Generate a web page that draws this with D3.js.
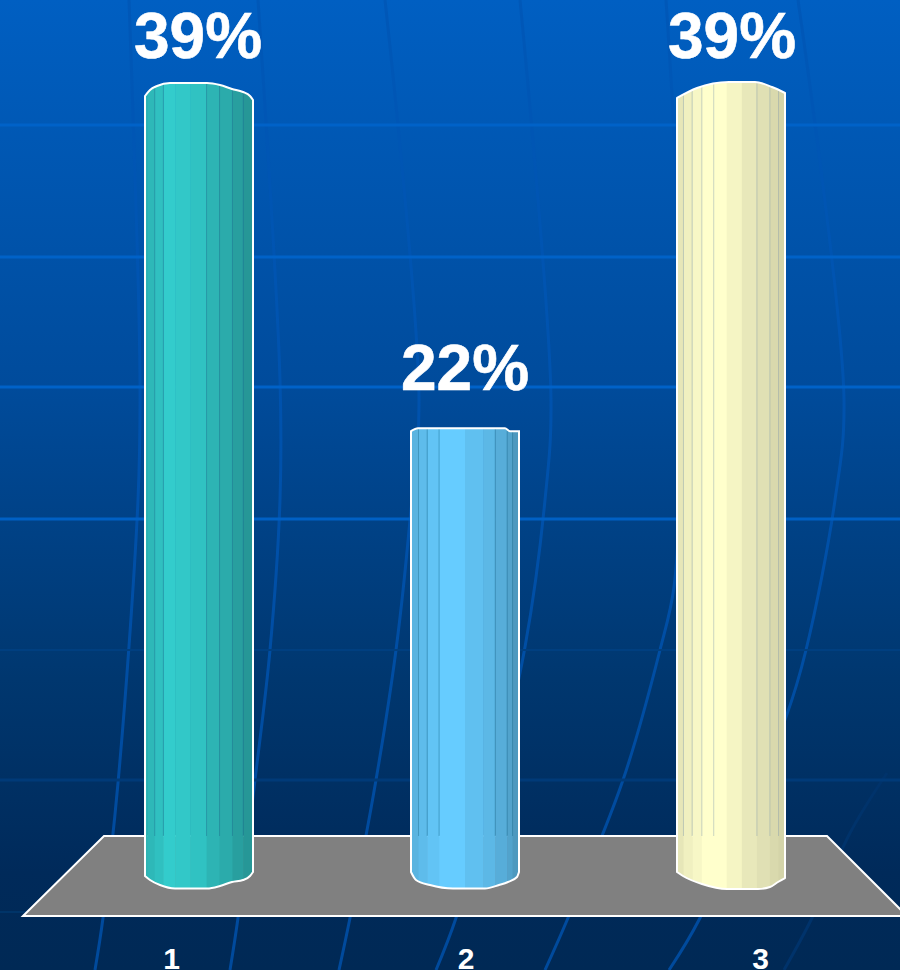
<!DOCTYPE html>
<html>
<head>
<meta charset="utf-8">
<script src="https://cdn.jsdelivr.net/npm/d3@7"></script>
<style>
  html, body { margin: 0; padding: 0; background: #00295a; overflow: hidden; }
  svg { display: block; }
</style>
</head>
<body>
<div id="chart"></div>
<script>
// chart values
const categories = ["1", "2", "3"];
const percentages = [39, 22, 39];
const percentLabels = ["39%", "22%", "39%"];
const barColors = ["#33cccc", "#66ccff", "#ffffcc"];

// SVG dimensions
const width = 900;
const height = 970;
const barWidth = 108;
const floorBackY = 836;
const floorFrontY = 916;

// stripes of each cylinder, as fraction of the bar width and brightness
const stripeEdges = [
    [0, 0.02, 0.09, 0.17, 0.28, 0.42, 0.57, 0.69, 0.81, 0.91, 1],
    [0, 0.07, 0.15, 0.26, 0.37, 0.50, 0.67, 0.78, 0.89, 0.94, 1],
    [0, 0.06, 0.14, 0.23, 0.34, 0.46, 0.60, 0.74, 0.86, 0.94, 1]
];
const stripeShades = [
    [0.88, 0.90, 0.94, 1, 0.98, 0.95, 0.88, 0.84, 0.78, 0.74],
    [0.88, 0.92, 0.96, 1, 1, 0.94, 0.90, 0.85, 0.80, 0.75],
    [0.90, 0.94, 0.97, 1, 1, 0.96, 0.91, 0.88, 0.85, 0.83]
];
const stripeLines = [
    [0.09, 0.17, 0.57, 0.69, 0.81, 0.91],
    [0.07, 0.15, 0.26, 0.78, 0.89, 0.94],
    [0.06, 0.14, 0.23, 0.34, 0.74, 0.86, 0.94]
];

// outline of the top and bottom of each cylinder, [dx from bar centre, dy from value / base]
const topCaps = [
    [[-54, 0], [-49, -6], [-42, -10], [-29, -13], [8, -13], [21, -11], [33, -7], [44, -4], [51, 0], [54, 4]],
    [[-54, 0], [-47, -3], [40, -3], [45, 0], [54, 0]],
    [[-54, 2], [-34, -8], [-2, -14], [24, -14], [41, -9], [54, -3]]
];
const bottomCaps = [
    [[-54, 11], [-49, 15], [-39, 20], [-24, 23.5], [8, 23.5], [21, 21], [33, 17], [44, 15], [51, 11], [54, 7]],
    [[-54, 7], [-49, 15], [-35, 20], [-12, 23.5], [20, 23.5], [34, 20], [43, 17], [52, 12], [54, 7]],
    [[-54, 7], [-48, 11], [-29, 19], [-4, 24], [27, 24], [39, 22], [47, 17], [54, 13]]
];
const labelOffsets = [38, 41, 38];

// background decoration
const floorCorners = [[23, floorFrontY], [104, floorBackY], [827, floorBackY], [907, floorFrontY]];
const gridRows = [
    { y: 125, color: "#0062c8", w: 3 },
    { y: 257, color: "#0062c8", w: 3 },
    { y: 387, color: "#0062c8", w: 3 },
    { y: 519, color: "#0060c4", w: 3 },
    { y: 650, color: "#003f80", w: 2 },
    { y: 780, color: "#003a78", w: 3 },
    { y: 912, color: "#003468", w: 2 }
];
const gridCurves = [
    [[129, 0], [140, 380], [138, 500], [118, 783], [103, 918], [95, 970]],
    [[258, 0], [280, 380], [280, 500], [270, 650], [255, 780], [238, 918], [230, 970]],
    [[385, 0], [419, 400], [410, 520], [396, 650], [376, 780], [350, 918], [339, 970]],
    [[520, 0], [551, 400], [545, 500], [525, 647], [495, 780], [456, 918], [436, 970]],
    [[666, 0], [677, 200], [680, 450], [674, 587], [660, 650], [623, 780], [568, 918], [545, 970]],
    [[798, 0], [844, 400], [835, 500], [806, 650], [786, 717], [700, 918], [669, 970]]
];
const darkCurve = [[887, 773], [850, 833], [812, 918], [784, 970]];

const svg = d3.select("#chart").append("svg")
    .attr("width", width)
    .attr("height", height);

const defs = svg.append("defs");

const bg = defs.append("linearGradient")
    .attr("id", "bg")
    .attr("x1", 0).attr("y1", 0).attr("x2", 0).attr("y2", 1);
bg.append("stop").attr("offset", "0%").attr("stop-color", "#005fc2");
bg.append("stop").attr("offset", "40%").attr("stop-color", "#004b9b");
bg.append("stop").attr("offset", "70%").attr("stop-color", "#00376f");
bg.append("stop").attr("offset", "90%").attr("stop-color", "#002a5a");
bg.append("stop").attr("offset", "100%").attr("stop-color", "#002955");

svg.append("rect")
    .attr("width", width)
    .attr("height", height)
    .attr("fill", "url(#bg)");

// curved grid behind the chart
const curve = d3.line().curve(d3.curveCatmullRom);
svg.append("g")
    .selectAll("path")
    .data(gridCurves)
    .enter().append("path")
    .attr("d", curve)
    .attr("fill", "none")
    .attr("stroke", "#0056b4")
    .attr("stroke-opacity", 0.75)
    .attr("stroke-width", 3);

svg.append("path")
    .attr("d", curve(darkCurve))
    .attr("fill", "none")
    .attr("stroke", "#00336b")
    .attr("stroke-width", 3);

svg.append("g")
    .selectAll("line")
    .data(gridRows)
    .enter().append("line")
    .attr("x1", 0)
    .attr("x2", width)
    .attr("y1", d => d.y)
    .attr("y2", d => d.y)
    .attr("stroke", d => d.color)
    .attr("stroke-width", d => d.w);

// floor
svg.append("polygon")
    .attr("points", floorCorners.join(" "))
    .attr("fill", "#808080")
    .attr("stroke", "#ffffff")
    .attr("stroke-width", 2);

// scales
const x = d3.scalePoint()
    .domain(categories)
    .range([199, 731]);

const y = d3.scaleLinear()
    .domain([0, 39])
    .range([865, 96]);

const yBase = y(0);

// value labels sit slightly off the bar centres
const xLabel = d3.scalePoint()
    .domain(categories)
    .range([198, 732]);

// the floor labels sit wider apart than the bars because of the perspective
const xAxisScale = d3.scalePoint()
    .domain(categories)
    .range([171, 760]);

const outline = d3.line().curve(d3.curveMonotoneX);

function barPath(i) {
    const cx = x(categories[i]);
    const top = topCaps[i].map(p => [cx + p[0], y(percentages[i]) + p[1]]);
    const bottom = bottomCaps[i].map(p => [cx + p[0], yBase + p[1]]);
    return outline(top) + "L" + outline(bottom.slice().reverse()).slice(1) + "Z";
}

const bars = svg.append("g")
    .selectAll("g")
    .data(categories)
    .enter().append("g");

bars.each(function (cat, i) {
    const g = d3.select(this);
    const left = x(cat) - barWidth / 2;
    const color = d3.color(barColors[i]);

    defs.append("clipPath")
        .attr("id", "bar-clip-" + i)
        .append("path")
        .attr("d", barPath(i));

    const inner = g.append("g").attr("clip-path", "url(#bar-clip-" + i + ")");

    inner.selectAll("rect")
        .data(stripeShades[i])
        .enter().append("rect")
        .attr("x", (d, j) => left + stripeEdges[i][j] * barWidth)
        .attr("width", (d, j) => (stripeEdges[i][j + 1] - stripeEdges[i][j]) * barWidth + 0.5)
        .attr("y", y(percentages[i]) - 20)
        .attr("height", yBase - y(percentages[i]) + 50)
        .attr("fill", d => d3.rgb(color.r * d, color.g * d, color.b * d));

    inner.selectAll("line")
        .data(stripeLines[i])
        .enter().append("line")
        .attr("x1", d => left + d * barWidth)
        .attr("x2", d => left + d * barWidth)
        .attr("y1", y(percentages[i]) - 20)
        .attr("y2", floorBackY)
        .attr("stroke", i === 2 ? "#8aa0b0" : "#1f6f8f")
        .attr("stroke-opacity", 0.45)
        .attr("stroke-width", 1);

    g.append("path")
        .attr("d", barPath(i))
        .attr("fill", "none")
        .attr("stroke", "#ffffff")
        .attr("stroke-width", 2);
});

// value labels
svg.append("g")
    .selectAll("text")
    .data(percentLabels)
    .enter().append("text")
    .attr("x", (d, i) => xLabel(categories[i]))
    .attr("y", (d, i) => y(percentages[i]) - labelOffsets[i])
    .attr("text-anchor", "middle")
    .attr("font-family", "'Liberation Sans', Arial, sans-serif")
    .attr("font-weight", "bold")
    .attr("font-size", 64)
    .attr("fill", "#ffffff")
    .attr("stroke", "#ffffff")
    .attr("stroke-width", 0.6)
    .text(d => d);

// category axis
const xAxis = svg.append("g")
    .attr("transform", "translate(0,968.5)")
    .call(d3.axisBottom(xAxisScale).tickSize(0).tickPadding(0));

xAxis.select(".domain").remove();
xAxis.selectAll("text")
    .attr("y", 0)
    .attr("dy", 0)
    .attr("font-family", "'Liberation Sans', Arial, sans-serif")
    .attr("font-weight", "bold")
    .attr("font-size", 30)
    .attr("fill", "#ffffff");
</script>
</body>
</html>
